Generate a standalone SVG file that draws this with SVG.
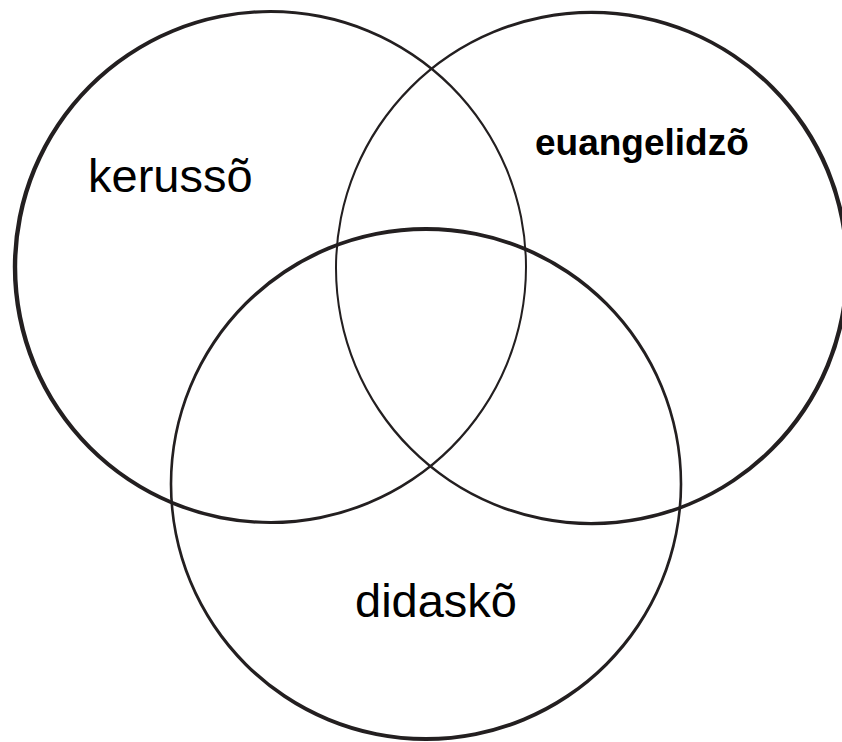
<svg xmlns="http://www.w3.org/2000/svg" width="842" height="742" viewBox="0 0 842 742">
<style>
.ring{fill:#231f20;fill-rule:evenodd;stroke:none}
.lbl{font-family:"Liberation Sans",Arial,Helvetica,sans-serif;font-size:47px;fill:#000}
.bold{font-weight:bold;font-size:37px}
</style>
<rect width="842" height="742" fill="#fff"/>
<g id="kerusso">
<path class="ring" d="M 12.8 267 a 257.1 257.1 0 1 0 514.2 0 a 257.1 257.1 0 1 0 -514.2 0 Z M 17.2 267 a 253.9 253.9 0 1 0 507.8 0 a 253.9 253.9 0 1 0 -507.8 0 Z"/>
<text class="lbl" x="88" y="192">kerussõ</text>
</g>
<g id="euangelidzo">
<path class="ring" d="M 335 268 a 257.1 257.1 0 1 0 514.2 0 a 257.1 257.1 0 1 0 -514.2 0 Z M 337 268 a 253.9 253.9 0 1 0 507.8 0 a 253.9 253.9 0 1 0 -507.8 0 Z"/>
<text class="lbl bold" x="535" y="155">euangelidzõ</text>
</g>
<g id="didasko">
<path class="ring" d="M 169.7 484 a 256.3 257 0 1 0 512.6 0 a 256.3 257 0 1 0 -512.6 0 Z M 172.3 484 a 253.7 253 0 1 0 507.4 0 a 253.7 253 0 1 0 -507.4 0 Z"/>
<text class="lbl" x="355" y="617">didaskõ</text>
</g>
<g id="connectors"/>
</svg>
